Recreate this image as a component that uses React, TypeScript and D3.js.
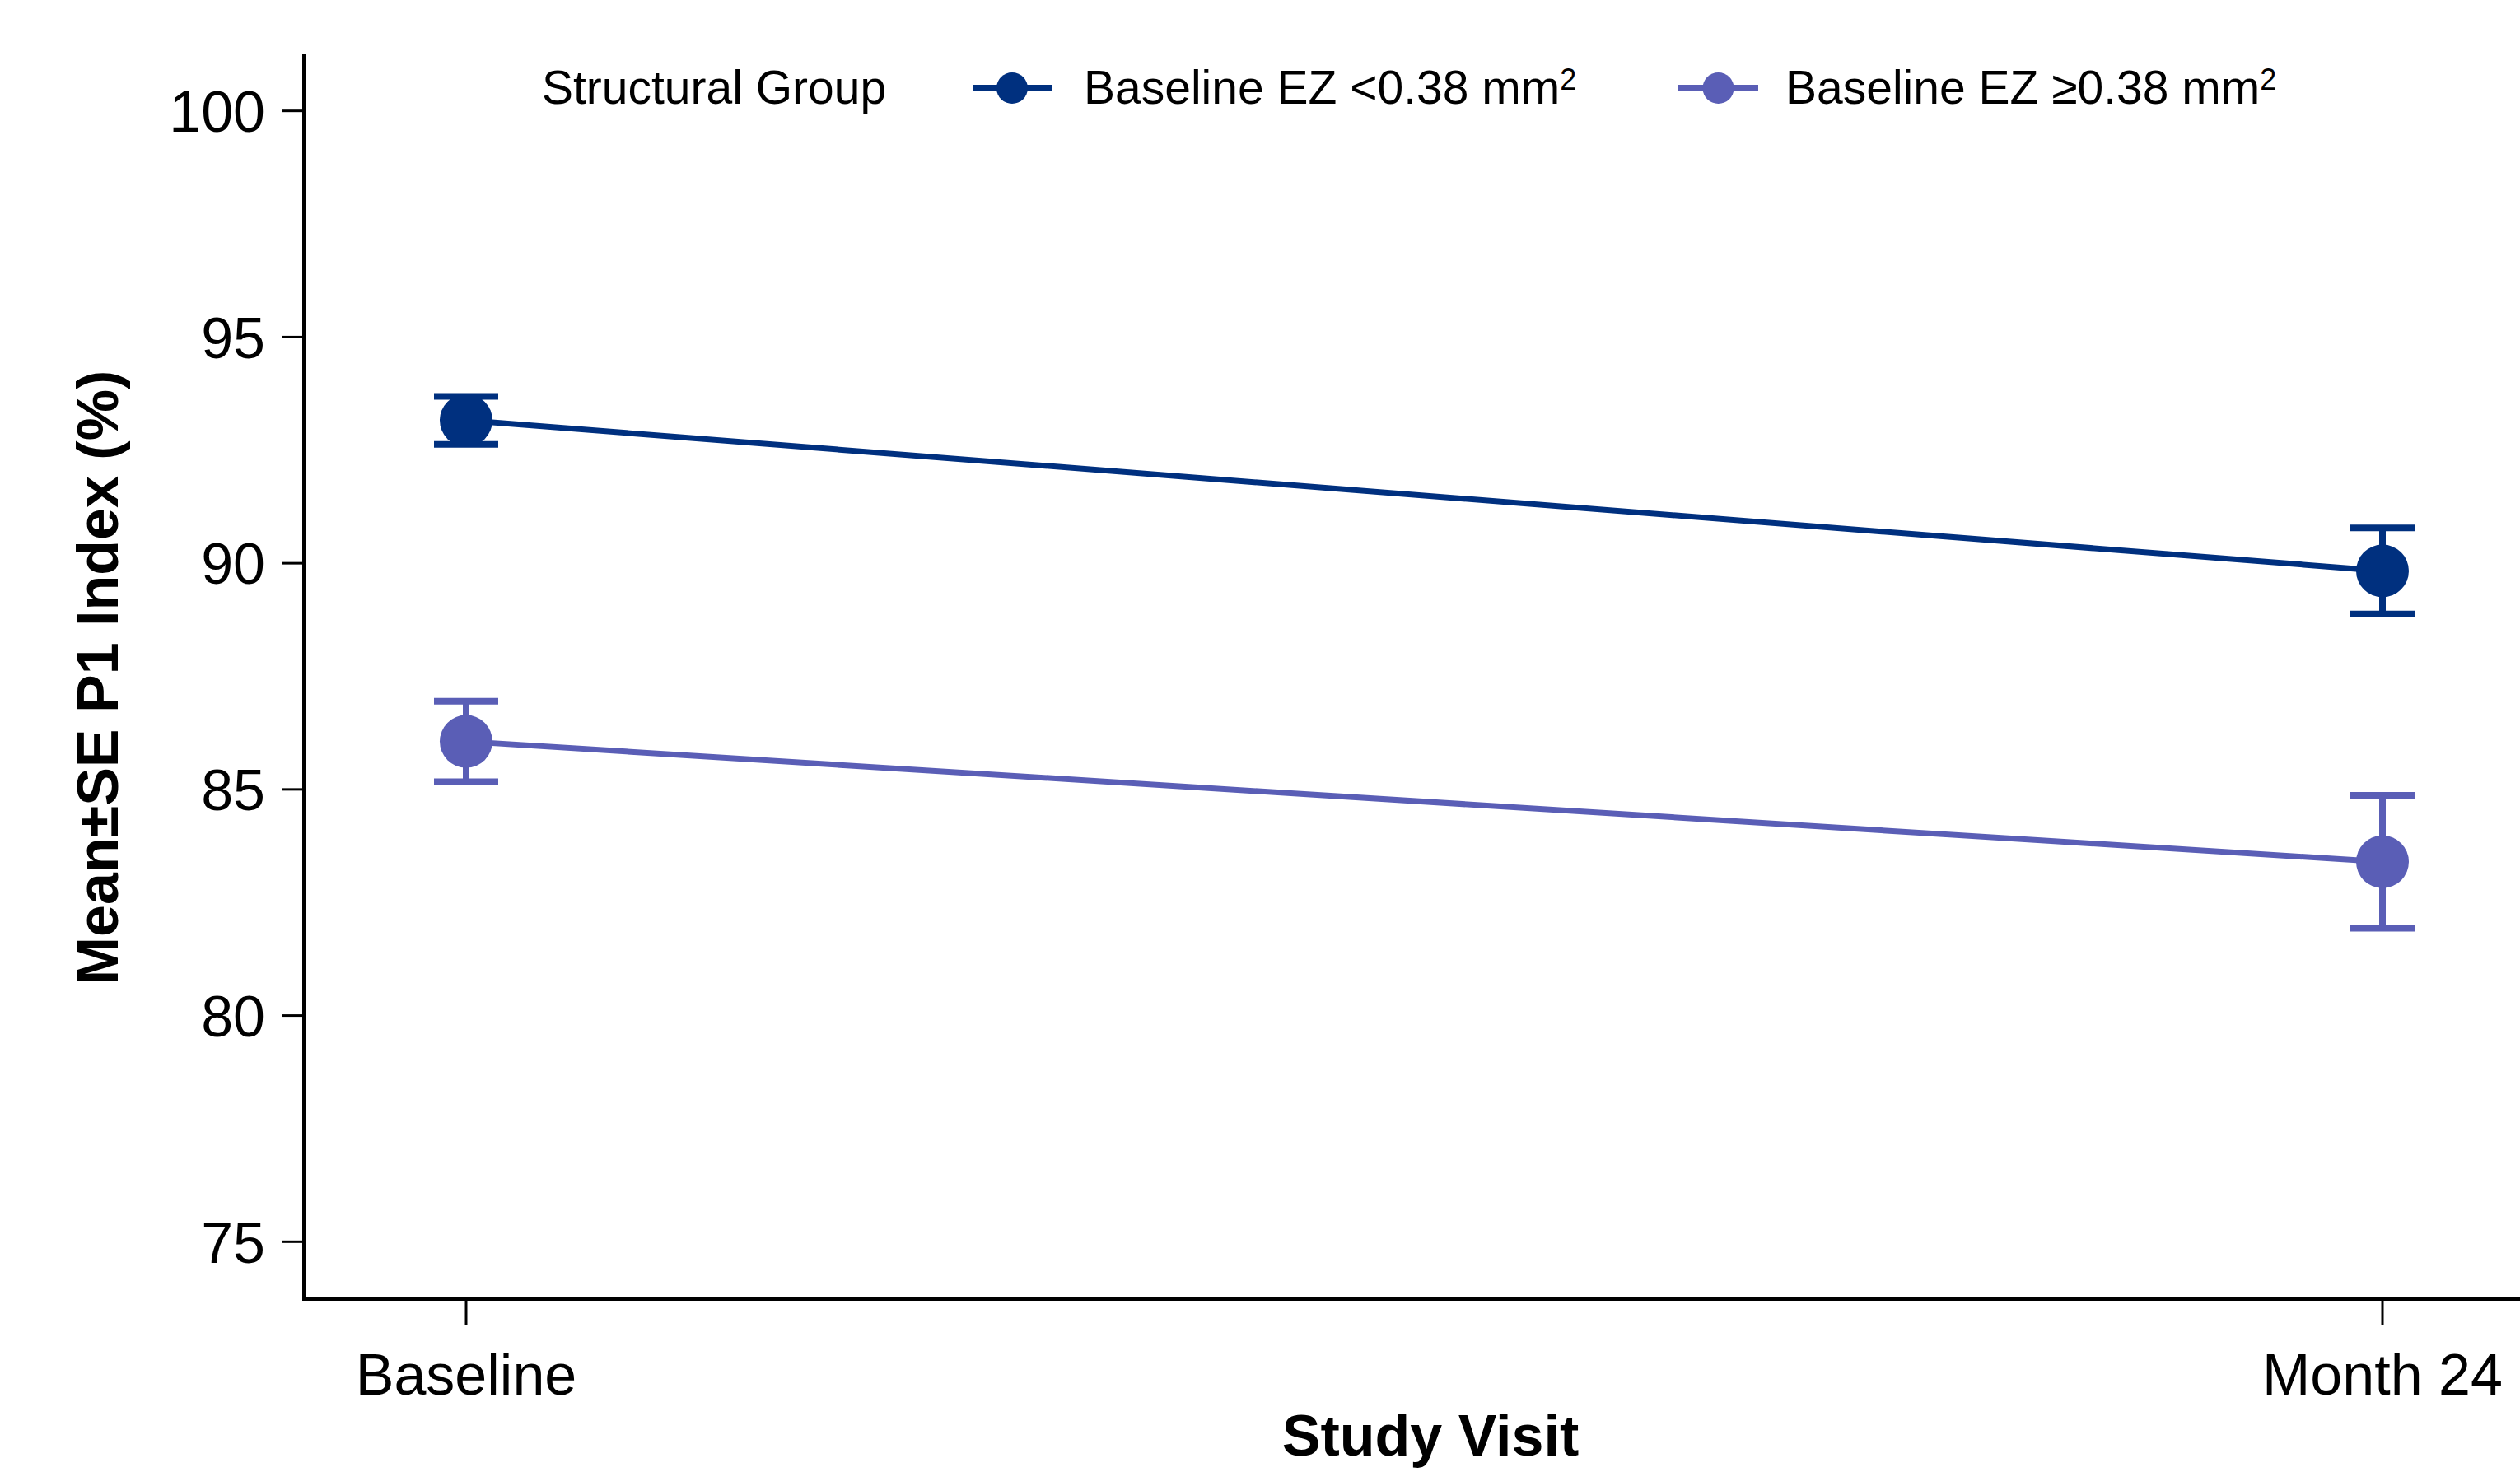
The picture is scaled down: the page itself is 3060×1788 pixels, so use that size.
import React from "react";
import * as d3 from "d3";

const visits = ["Baseline", "Month 24"];
const seriesNames = ["Baseline EZ <0.38 mm", "Baseline EZ \u22650.38 mm"];
const seriesColors = ["#00307f", "#5a5eb6"];
const meanSmall = [93.16, 89.83];
const seSmall = [0.53, 0.95];
const meanLarge = [86.06, 83.4];
const seLarge = [0.89, 1.47];
const yTicks = [75, 80, 85, 90, 95, 100];

const W = 3060;
const H = 1788;
const FONT = "'Liberation Sans', Arial, Helvetica, sans-serif";

export default function App() {
  const x = d3.scalePoint<string>().domain(visits).range([566, 2893]);
  const y = d3.scaleLinear().domain([73.75, 101.25]).range([1577, 66]);
  const axisX = 369;
  const axisY = 1578;

  const series = [
    { name: seriesNames[0], color: seriesColors[0], mean: meanSmall, se: seSmall },
    { name: seriesNames[1], color: seriesColors[1], mean: meanLarge, se: seLarge },
  ];

  const line = d3
    .line<number>()
    .x((_, i) => x(visits[i]) as number)
    .y((d) => y(d));

  const capHalf = 39;
  const r = 32;

  const legendItems = [
    { lx0: 1181, lx1: 1277, tx: 1316 },
    { lx0: 2038, lx1: 2135, tx: 2168 },
  ];
  const legendY = 107;

  return (
    <svg
      width={W}
      height={H}
      style={{ position: "absolute", left: 0, top: 0, display: "block", background: "#fff" }}
      fontFamily={FONT}
    >
      <rect x={0} y={0} width={W} height={H} fill="#fff" />
      {/* axes */}
      <line x1={axisX} x2={axisX} y1={66} y2={axisY + 2} stroke="#000" strokeWidth={4} />
      <line x1={axisX - 2} x2={W} y1={axisY} y2={axisY} stroke="#000" strokeWidth={4} />
      {yTicks.map((t) => (
        <g key={t}>
          <line x1={axisX - 27} x2={axisX} y1={y(t)} y2={y(t)} stroke="#000" strokeWidth={3} />
          <text x={322} y={y(t)} dy="0.36em" textAnchor="end" fontSize={70} fill="#000">
            {t}
          </text>
        </g>
      ))}
      {visits.map((v) => (
        <g key={v}>
          <line x1={x(v)} x2={x(v)} y1={axisY} y2={1610} stroke="#000" strokeWidth={3} />
          <text x={x(v)} y={1694} textAnchor="middle" fontSize={70} fill="#000">
            {v}
          </text>
        </g>
      ))}
      <text x={1737} y={1768} textAnchor="middle" fontSize={70} fontWeight="bold" fill="#000">
        Study Visit
      </text>
      <text
        transform={`translate(143,823) rotate(-90)`}
        textAnchor="middle"
        fontSize={70}
        fontWeight="bold"
        fill="#000"
      >
        Mean±SE P1 Index (%)
      </text>

      {/* series */}
      {series.map((s) => (
        <g key={s.name}>
          <path d={line(s.mean) || ""} fill="none" stroke={s.color} strokeWidth={7} />
          {s.mean.map((m, i) => {
            const cx = x(visits[i]) as number;
            const yt = y(m + s.se[i]);
            const yb = y(m - s.se[i]);
            return (
              <g key={i}>
                <line x1={cx} x2={cx} y1={yt} y2={yb} stroke={s.color} strokeWidth={8} />
                <line x1={cx - capHalf} x2={cx + capHalf} y1={yt} y2={yt} stroke={s.color} strokeWidth={8} />
                <line x1={cx - capHalf} x2={cx + capHalf} y1={yb} y2={yb} stroke={s.color} strokeWidth={8} />
                <circle cx={cx} cy={y(m)} r={r} fill={s.color} />
              </g>
            );
          })}
        </g>
      ))}

      {/* legend */}
      <text x={658} y={126} fontSize={57} fill="#000">
        Structural Group
      </text>
      {series.map((s, i) => {
        const it = legendItems[i];
        return (
          <g key={s.name}>
            <line x1={it.lx0} x2={it.lx1} y1={legendY} y2={legendY} stroke={s.color} strokeWidth={8} />
            <circle cx={(it.lx0 + it.lx1) / 2} cy={legendY} r={19} fill={s.color} />
            <text x={it.tx} y={126} fontSize={57} fill="#000">
              {s.name}
              <tspan fontSize={36} dy={-17}>
                2
              </tspan>
            </text>
          </g>
        );
      })}
    </svg>
  );
}
